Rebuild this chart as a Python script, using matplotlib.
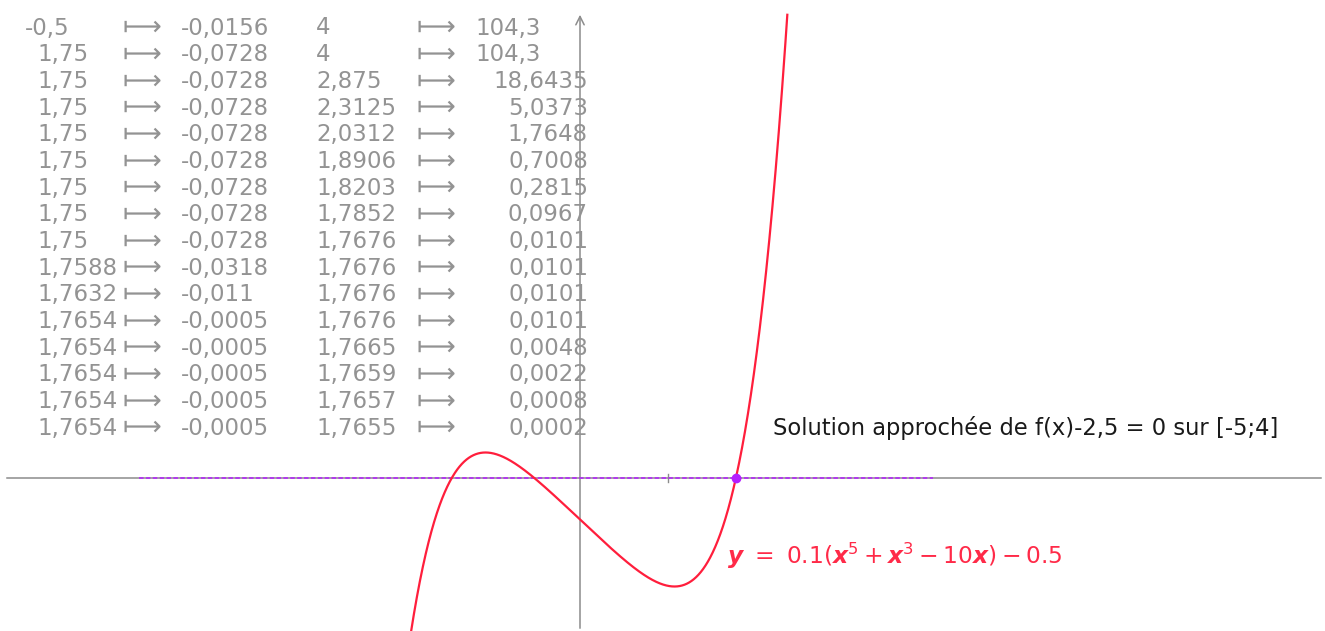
import numpy as np
import matplotlib
matplotlib.use("Agg")
import matplotlib.pyplot as plt

# ---------------- data ----------------
a_vals  = ["-0,5", "1,75", "1,75", "1,75", "1,75", "1,75", "1,75", "1,75", "1,75",
           "1,7588", "1,7632", "1,7654", "1,7654", "1,7654", "1,7654", "1,7654"]
fa_vals = ["-0,0156", "-0,0728", "-0,0728", "-0,0728", "-0,0728", "-0,0728", "-0,0728",
           "-0,0728", "-0,0728", "-0,0318", "-0,011", "-0,0005", "-0,0005", "-0,0005",
           "-0,0005", "-0,0005"]
b_vals  = ["4", "4", "2,875", "2,3125", "2,0312", "1,8906", "1,8203", "1,7852", "1,7676",
           "1,7676", "1,7676", "1,7676", "1,7665", "1,7659", "1,7657", "1,7655"]
fb_vals = ["104,3", "104,3", "18,6435", "5,0373", "1,7648", "0,7008", "0,2815", "0,0967",
           "0,0101", "0,0101", "0,0101", "0,0101", "0,0048", "0,0022", "0,0008", "0,0002"]

coef = [0.1, 0.0, 0.1, 0.0, -1.0, -0.5]      # 0.1(x^5 + x^3 - 10x) - 0.5
interval = [-5, 4]
root = 1.7655
title_text = "Solution approchée de f(x)-2,5 = 0 sur [-5;4]"

# ---------------- figure ----------------
W, H = 1325, 631
fig = plt.figure(figsize=(W / 100, H / 100), dpi=100)
ax = fig.add_axes([0, 0, 1, 1])
ax.set_axis_off()

ox, oy = 580, 478      # origin pixel
sx, sy = 88.3, 83.0    # pixels per unit
ax.set_xlim(-ox / sx, (W - ox) / sx)
ax.set_ylim(-(H - oy) / sy, oy / sy)

axis_col = "#8c8c8c"
top_val = (oy - 12) / sy

# axes
ax.plot([-(ox - 7) / sx, (1321 - ox) / sx], [0, 0], color=axis_col, lw=1.1, zorder=1)
ax.annotate("", xy=(0, top_val), xytext=(0, -(H - oy) / sy),
            arrowprops=dict(arrowstyle="->,head_length=0.6,head_width=0.3",
                            color=axis_col, lw=1.1), zorder=1)
ax.annotate("", xy=((1332 - ox) / sx, 0), xytext=((1300 - ox) / sx, 0),
            arrowprops=dict(arrowstyle="->,head_length=0.6,head_width=0.3",
                            color="#c8c8c8", lw=0.8), zorder=0)
ax.plot([1, 1], [-4 / sy, 4 / sy], color=axis_col, lw=1.0)

# interval dashed
ax.plot(interval, [0, 0], color="#b41eff", lw=1.1, ls=(0, (3, 1.5)), zorder=2)

# curve
xs = np.linspace(-2.2, 2.6, 2000)
ys = np.polyval(coef, xs)
ys = np.where(ys <= top_val, ys, np.nan)
ax.plot(xs, ys, color="#ff1e3c", lw=1.6, zorder=3)

# root point
ax.plot([root], [0], "o", color="#b41eff", ms=6, zorder=4)

# ---------------- texts ----------------
def fx(px):
    return px / W

def fy(py):
    return 1 - py / H

gray = "#939393"
fs = 16.5
afs = 19.5
minus_w = 12
for i in range(len(a_vals)):
    y = 28 + i * 26.67
    a = a_vals[i]
    fig.text(fx(37 - (minus_w if a.startswith("-") else 0)), fy(y), a, color=gray,
             fontsize=fs, va="center", ha="left")
    fig.text(fx(122), fy(y), "\u27fc", color=gray, fontsize=afs, va="center", ha="left")
    fig.text(fx(181), fy(y), fa_vals[i], color=gray, fontsize=fs, va="center", ha="left")
    fig.text(fx(316), fy(y), b_vals[i], color=gray, fontsize=fs, va="center", ha="left")
    fig.text(fx(416), fy(y), "\u27fc", color=gray, fontsize=afs, va="center", ha="left")
    if i < 2:
        fig.text(fx(475), fy(y), fb_vals[i], color=gray, fontsize=fs, va="center", ha="left")
    else:
        fig.text(fx(588), fy(y), fb_vals[i], color=gray, fontsize=fs, va="center", ha="right")

fig.text(fx(773), fy(428), title_text, color="#1a1a1a", fontsize=16.3,
         family="DejaVu Sans", va="center", ha="left")

plt.rcParams["mathtext.fontset"] = "dejavusans"
fig.text(fx(727), fy(556),
         r"$\mathbfit{y}\ =\ 0.1(\mathbfit{x}^5+\mathbfit{x}^3-10\mathbfit{x})-0.5$",
         color="#ff2a48", fontsize=16.8, va="center", ha="left")

fig.savefig("out.png", dpi=100)
